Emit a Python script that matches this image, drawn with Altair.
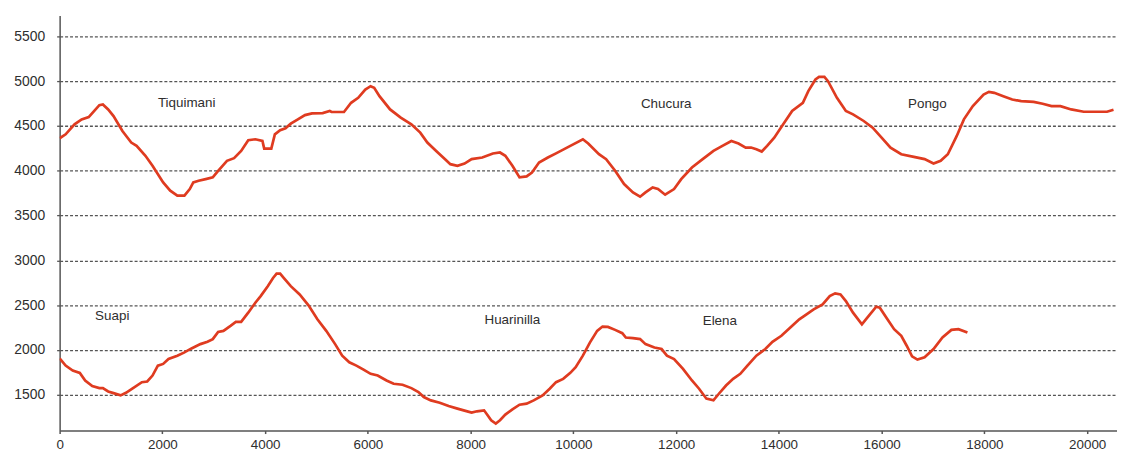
import altair as alt
import pandas as pd

# ---- data (distance in m, elevation in m) ----
upper_x = [0, 117, 290, 428, 566, 670, 773, 842, 945, 1049,
           1222, 1394, 1498, 1670, 1808, 2015, 2153, 2291, 2429, 2533,
           2602, 2705, 2843, 2981, 3085, 3257, 3395, 3533, 3671, 3809,
           3947, 3982, 4120, 4189, 4292, 4396, 4499, 4637, 4775, 4913,
           5120, 5258, 5293, 5534, 5673, 5811, 5949, 6052, 6122, 6225,
           6432, 6639, 6846, 7019, 7157, 7329, 7502, 7605, 7743, 7881,
           8019, 8226, 8433, 8571, 8675, 8813, 8951, 9089, 9193, 9331,
           9503, 9662,
           9940, 10184, 10288, 10497, 10637, 10812, 10986, 11159, 11298, 11403,
           11542, 11646, 11785, 11959, 12098, 12307, 12516, 12726, 12900, 13074,
           13213, 13353, 13457, 13561, 13666, 13770, 13909, 14083, 14257, 14466,
           14572, 14711, 14781, 14885, 14955, 15129, 15303, 15442, 15650, 15824,
           15998, 16172, 16381, 16626, 16835, 17009, 17148, 17287, 17461, 17600,
           17774, 17983, 18087, 18191, 18367, 18541, 18715, 18958, 19133, 19306,
           19480, 19689, 19932, 20176, 20386, 20512]
upper_elev = [4363, 4407, 4519, 4574, 4600, 4667, 4733, 4741, 4685, 4611,
              4444, 4315, 4278, 4167, 4056, 3870, 3778, 3722, 3722, 3796,
              3870, 3889, 3907, 3926, 4000, 4111, 4141, 4222, 4341, 4352,
              4333, 4248, 4248, 4407, 4452, 4474, 4526, 4574, 4622, 4641,
              4644, 4667, 4656, 4656, 4759, 4815, 4907, 4944, 4926, 4833,
              4685, 4593, 4519, 4426, 4315, 4222, 4130, 4074, 4056, 4081,
              4130, 4148, 4193, 4204, 4167, 4056, 3926, 3937, 3981, 4093,
              4148, 4195,
              4278, 4352, 4304, 4185, 4130, 4000, 3852, 3759, 3711, 3759,
              3815, 3796, 3733, 3796, 3907, 4037, 4130, 4222, 4278, 4333,
              4304, 4259, 4259, 4241, 4215, 4278, 4370, 4519, 4667, 4759,
              4889, 5019, 5048, 5048, 5000, 4815, 4667, 4630, 4556, 4481,
              4370, 4259, 4185, 4156, 4130, 4081, 4111, 4185, 4389, 4574,
              4722, 4852, 4881, 4870, 4833, 4796, 4778, 4770, 4748, 4722,
              4722, 4685, 4659, 4659, 4659, 4681]

lower_x = [0, 117, 255, 393, 497, 635, 773, 842, 945, 1049,
           1187, 1291, 1429, 1601, 1705, 1808, 1912, 2015, 2119, 2291,
           2429, 2567, 2740, 2878, 2981, 3085, 3188, 3326, 3429, 3533,
           3671, 3809, 3913, 4051, 4154, 4223, 4292, 4361, 4499, 4672,
           4844, 5017, 5189, 5362, 5500, 5638, 5776, 5915, 6053, 6191,
           6363, 6501, 6674, 6846, 6984, 7088, 7226, 7398, 7571, 7743,
           7881, 8019, 8123, 8261, 8330, 8399, 8489, 8571, 8675, 8813,
           8951, 9089, 9227, 9400, 9538, 9662,
           9801, 9940, 10044, 10184, 10323, 10462, 10566, 10672, 10812, 10951,
           11020, 11159, 11298, 11403, 11577, 11716, 11820, 11959, 12133, 12307,
           12446, 12588, 12726, 12831, 12970, 13109, 13248, 13387, 13561, 13735,
           13874, 14048, 14222, 14396, 14537, 14676, 14850, 14989, 15094, 15198,
           15303, 15442, 15615, 15720, 15894, 15963, 16102, 16242, 16381, 16487,
           16591, 16696, 16835, 17009, 17183, 17357, 17495, 17669]
lower_elev = [1906, 1825, 1770, 1744, 1659, 1596, 1574, 1574, 1537, 1518,
              1493, 1522, 1574, 1640, 1648, 1714, 1825, 1844, 1899, 1936,
              1973, 2017, 2065, 2091, 2121, 2202, 2213, 2269, 2313, 2313,
              2416, 2527, 2601, 2712, 2804, 2852, 2852, 2804, 2712, 2620,
              2498, 2342, 2213, 2065, 1936, 1862, 1825, 1781, 1733, 1714,
              1659, 1622, 1611, 1574, 1530, 1474, 1437, 1411, 1374, 1345,
              1323, 1300, 1315, 1326, 1271, 1215, 1179, 1215, 1278, 1337,
              1389, 1400, 1437, 1493, 1567, 1640,
              1677, 1744, 1807, 1936, 2084, 2213, 2261, 2257, 2224, 2187,
              2139, 2132, 2121, 2065, 2028, 2010, 1936, 1899, 1788, 1659,
              1567, 1456, 1437, 1511, 1603, 1677, 1733, 1825, 1936, 2010,
              2091, 2158, 2250, 2342, 2398, 2453, 2509, 2601, 2631, 2620,
              2546, 2416, 2287, 2361, 2483, 2472, 2350, 2232, 2158, 2047,
              1929, 1892, 1918, 2010, 2139, 2224, 2232, 2195]

label_names = ["Tiquimani", "Chucura", "Pongo", "Suapi", "Huarinilla", "Elena"]
label_x = [2473, 11807, 16889, 1024, 8812, 12850]
label_elev = [4759, 4743, 4743, 2376, 2331, 2320]

x_ticks = list(range(0, 20001, 2000))
y_ticks = list(range(1500, 5501, 500))

X_DOMAIN = [0, 20580]
Y_DOMAIN = [1100, 5733]

n_up = min(len(upper_x), len(upper_elev))
n_lo = min(len(lower_x), len(lower_elev))
df_lines = pd.concat([
    pd.DataFrame({"dist": upper_x[:n_up], "elev": upper_elev[:n_up], "seg": "upper"}),
    pd.DataFrame({"dist": lower_x[:n_lo], "elev": lower_elev[:n_lo], "seg": "lower"}),
], ignore_index=True)
df_labels = pd.DataFrame({"dist": label_x, "elev": label_elev, "name": label_names})

FONT = "Liberation Sans"
AX = "#555555"
TXT = "#2e2e2e"

xs = alt.Scale(domain=X_DOMAIN, nice=False, zero=False)
ys = alt.Scale(domain=Y_DOMAIN, nice=False, zero=False)

x_axis = alt.Axis(values=x_ticks, format="d", title="", grid=False,
                  labelFont=FONT, labelFontSize=13.5, labelColor=TXT,
                  tickSize=3, tickColor=AX, tickWidth=1.5,
                  domainColor=AX, domainWidth=1.5, labelPadding=4,
                  labelFlush=False, labelOverlap=False)
y_axis = alt.Axis(values=y_ticks, format="d", title="", grid=True,
                  gridDash=[3, 2], gridColor=AX, gridWidth=1.3,
                  tickSize=5, tickDash=[3, 2], tickColor=AX, tickWidth=1.3,
                  labelFont=FONT, labelFontSize=14, labelColor=TXT,
                  labelPadding=10, domainColor=AX, domainWidth=1.5)

lines = alt.Chart(df_lines).mark_line(color="#df3b20", strokeWidth=2.7, clip=True).encode(
    x=alt.X("dist:Q", scale=xs, axis=x_axis),
    y=alt.Y("elev:Q", scale=ys, axis=y_axis),
    detail="seg:N",
)

texts = alt.Chart(df_labels).mark_text(font=FONT, fontSize=13.5, color=TXT,
                                       align="center", baseline="middle").encode(
    x=alt.X("dist:Q", scale=xs, axis=x_axis),
    y=alt.Y("elev:Q", scale=ys, axis=y_axis),
    text="name:N",
)

chart = alt.layer(lines, texts).properties(
    width=1065, height=418,
    autosize=alt.AutoSizeParams(type="none"),
    padding={"left": 52, "top": 6, "right": 0, "bottom": 22},
    background="white",
).configure_view(strokeWidth=0)

chart.save("out.html", embed_options={"renderer": "svg", "actions": False})
